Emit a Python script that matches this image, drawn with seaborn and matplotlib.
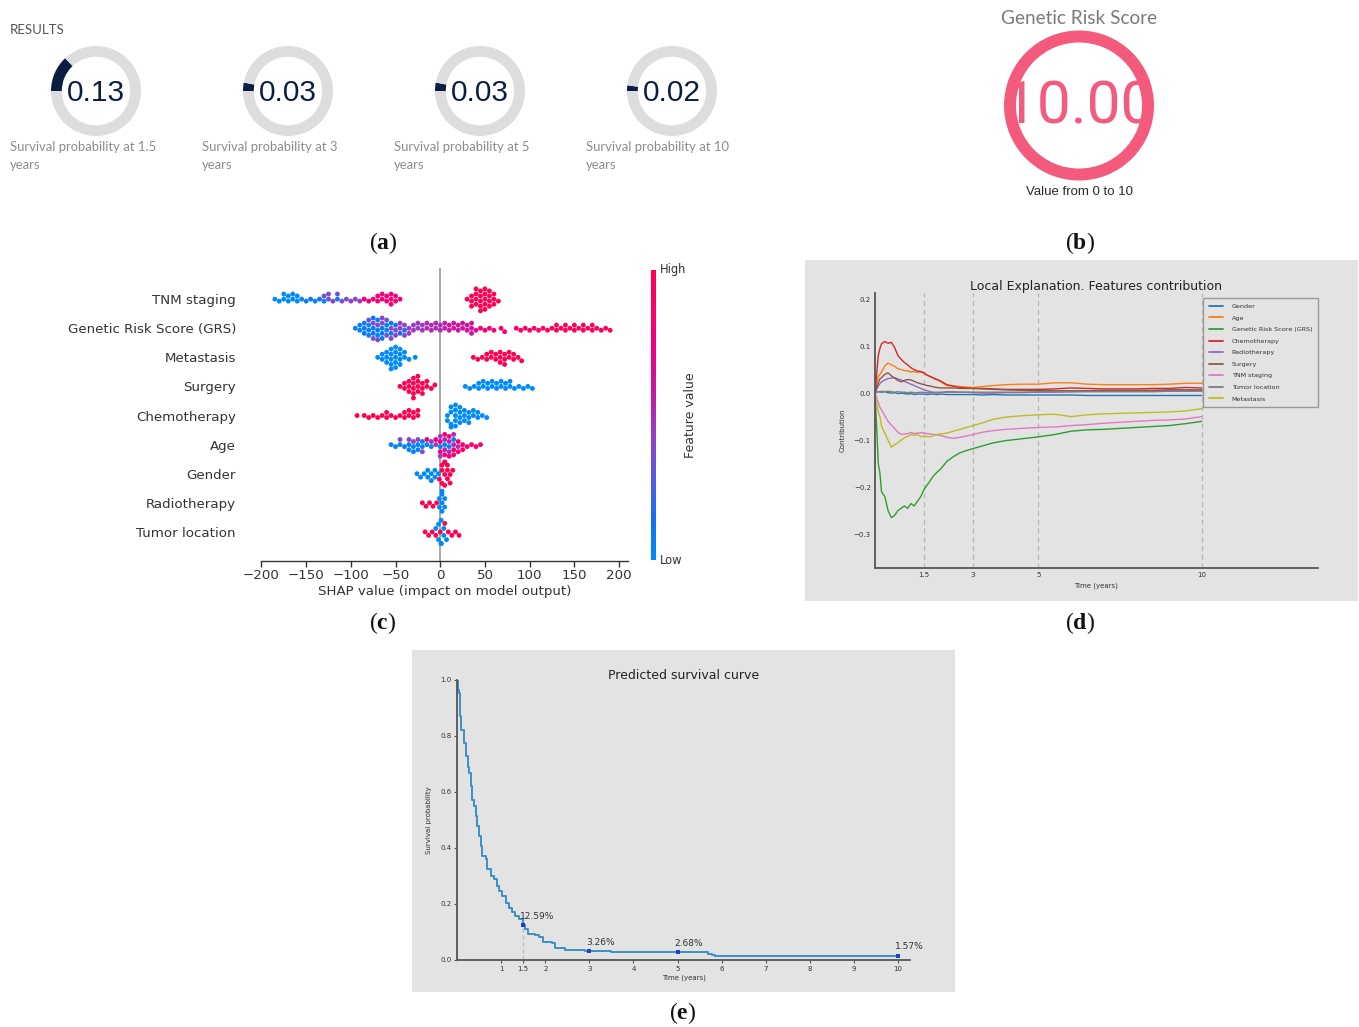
import numpy as np
import pandas as pd
import matplotlib
matplotlib.use("Agg")
import matplotlib as mpl
import matplotlib.pyplot as plt
from matplotlib.colors import LinearSegmentedColormap, Normalize
import seaborn as sns
import warnings
warnings.filterwarnings("ignore")

# ---------------- data ----------------
# (a) survival gauges
gauge_probs = [0.13, 0.03, 0.03, 0.02]
gauge_labels = ["Survival probability at 1.5\nyears", "Survival probability at 3\nyears",
                "Survival probability at 5\nyears", "Survival probability at 10\nyears"]
# (b) genetic risk score
grs_value = 10.0
grs_max = 10.0

# (c) SHAP summary: bin centre, number of dots, feature value (0 low .. 1 high)
shap_features = ["TNM staging", "Genetic Risk Score (GRS)", "Metastasis", "Surgery",
                 "Chemotherapy", "Age", "Gender", "Radiotherapy", "Tumor location"]
tnm_shap = [-185, -180, -175, -170, -165, -160, -155, -150, -145, -140, -135,
            -130, -130, -125, -120, -115, -115, -110, -105, -100, -95, -90,
            -85, -80, -75, -70, -65, -60, -55, -50, -45,
            30, 35, 40, 45, 50, 55, 60, 65]
tnm_count = [1, 1, 2, 2, 2, 2, 1, 1, 1, 1, 1,
             1, 1, 2, 1, 1, 1, 1, 1, 1, 1, 1,
             1, 1, 1, 2, 2, 2, 3, 2, 1,
             1, 3, 4, 5, 5, 4, 3, 1]
tnm_fval = [0, 0, 0, 0, 0, 0, 0, 0.05, 0.1, 0.05, 0.1,
            0.05, 0.35, 0.35, 0.4, 0.05, 0.35, 0.4, 0.35, 0.45, 0.4, 0.45,
            0.75, 0.75, 0.8, 0.8, 0.8, 0.8, 0.8, 0.8, 0.8,
            1, 1, 1, 1, 1, 1, 1, 1]

grs_shap = [-95, -90, -85, -80, -75, -70, -65, -60, -55, -50, -45, -40,
            -80, -75, -70, -65, -60, -55, -50, -45, -40, -35, -30, -25, -20, -15, -10, -5, 0, 5,
            10, 15, 20, 25, 30, 35, 40,
            45, 50, 55, 60, 68, 72, 85, 90, 95, 100, 105, 110, 115,
            120, 125, 130, 135, 140, 145, 150, 155, 160, 165, 170, 175, 180, 185, 190]
grs_count = [1, 2, 3, 3, 3, 3, 3, 2, 2, 1, 1, 1,
             1, 2, 2, 2, 2, 2, 2, 2, 2, 2, 2, 2, 2, 2, 2, 2, 2, 2,
             2, 2, 2, 2, 2, 3, 1,
             1, 1, 1, 1, 1, 1, 1, 1, 1, 1, 1, 1, 1,
             1, 1, 2, 1, 2, 1, 2, 1, 2, 1, 2, 1, 1, 1, 1]
grs_fval = [0.05, 0.05, 0.1, 0.05, 0.1, 0.05, 0.1, 0.05, 0.1, 0.1, 0.15, 0.15,
            0.35, 0.4, 0.35, 0.4, 0.35, 0.4, 0.4, 0.45, 0.4, 0.45, 0.45, 0.45, 0.45, 0.5, 0.5, 0.5, 0.5, 0.55,
            0.6, 0.6, 0.6, 0.6, 0.62, 0.62, 0.65,
            0.8, 0.8, 0.8, 0.8, 0.85, 0.85, 0.85, 0.85, 0.85, 0.85, 0.9, 0.9, 0.9,
            0.95, 0.95, 0.95, 0.95, 0.95, 0.95, 0.95, 0.95, 0.95, 0.95, 0.95, 0.95, 0.95, 0.95, 0.95]

met_shap = [-70, -65, -60, -55, -50, -45, -40, -35, -28,
            37, 42, 47, 52, 57, 62, 67, 72, 77, 82, 87, 91]
met_count = [1, 2, 3, 5, 5, 4, 2, 1, 1,
             1, 1, 1, 2, 2, 2, 3, 3, 2, 2, 1, 1]
met_fval = [0, 0, 0, 0, 0, 0, 0, 0, 0,
            1, 1, 1, 1, 1, 1, 1, 1, 1, 1, 1, 1]

sur_shap = [-45, -40, -35, -30, -25, -20, -15, -10, -6,
            28, 33, 38, 43, 48, 53, 58, 63, 68, 73, 78, 83, 88, 93, 98, 103]
sur_count = [1, 2, 3, 5, 4, 3, 2, 1, 1,
             1, 1, 1, 2, 2, 2, 2, 2, 2, 2, 2, 1, 1, 1, 1, 1]
sur_fval = [1, 1, 1, 1, 1, 1, 1, 1, 1,
            0, 0, 0, 0, 0, 0, 0, 0, 0, 0, 0, 0, 0, 0, 0, 0]

che_shap = [-93, -85, -80, -75, -70, -65, -60, -55, -50, -45, -40, -35, -30, -25,
            8, 12, 17, 22, 27, 32, 37, 42, 47, 52]
che_count = [1, 1, 1, 1, 1, 1, 2, 1, 1, 1, 2, 2, 2, 2,
             2, 4, 5, 4, 3, 3, 2, 2, 1, 1]
che_fval = [1, 1, 1, 1, 1, 1, 1, 1, 1, 1, 1, 1, 1, 1,
            0, 0, 0, 0, 0, 0, 0, 0, 0, 0]

age_shap = [-55, -50, -45, -40, -35, -30, -25, -20, -15, -10, 0, 5, 10, 15,
            -45, -35, -30, -25, -20, -10, -5, 0, 5, 10, 15, 20,
            -15, -5, 0, 5, 10, 15, 20, 25, 30, 35, 40, 45]
age_count = [1, 1, 1, 1, 2, 2, 2, 2, 1, 1, 1, 1, 1, 1,
             1, 1, 1, 1, 1, 1, 1, 2, 2, 2, 2, 1,
             1, 1, 2, 2, 2, 2, 2, 2, 1, 1, 1, 1]
age_fval = [0.05, 0.05, 0.05, 0.05, 0.05, 0.05, 0.05, 0.05, 0.05, 0.05, 0.05, 0.05, 0.05, 0.05,
            0.4, 0.4, 0.4, 0.4, 0.4, 0.45, 0.45, 0.45, 0.5, 0.5, 0.5, 0.5,
            0.75, 0.75, 0.75, 0.8, 0.8, 0.8, 0.8, 0.85, 0.85, 0.85, 0.85, 0.85]

gen_shap = [-26, -22, -18, -14, -10, -6, -2,
            -1, 2, 5, 8, 11, 14]
gen_count = [1, 1, 1, 2, 2, 2, 1,
             1, 3, 4, 3, 2, 1]
gen_fval = [0, 0, 0, 0, 0, 0, 0,
            1, 1, 1, 1, 1, 1]

rad_shap = [-20, -16, -12, -8, -4,
            -1, 2, 5]
rad_count = [1, 1, 1, 1, 1,
             2, 4, 2]
rad_fval = [1, 1, 1, 1, 1,
            0, 0, 0]

tum_shap = [-17, -13, -9, -5, 0, 5, 9, 13, 17, 21,
            -5, -2, 1, 4, 7]
tum_count = [1, 1, 1, 1, 1, 1, 1, 1, 1, 1,
             1, 2, 3, 2, 1]
tum_fval = [1, 1, 1, 1, 1, 1, 1, 1, 1, 1,
            0, 0, 0, 0, 0]

# (d) local explanation: contributions over time
contrib_time = [0, 0.05, 0.1, 0.15, 0.2, 0.3, 0.4, 0.5, 0.6, 0.7, 0.8, 0.9, 1.0, 1.1, 1.2, 1.3,
                1.4, 1.5, 1.6, 1.7, 1.8, 1.9, 2.0, 2.2, 2.4, 2.6, 2.8, 3.0, 3.3, 3.6, 4.0, 4.5,
                5.0, 5.5, 6.0, 6.5, 7.0, 7.5, 8.0, 8.5, 9.0, 9.5, 10.0]
contrib_names = ["Gender", "Age", "Genetic Risk Score (GRS)", "Chemotherapy", "Radiotherapy",
                 "Surgery", "TNM staging", "Tumor location", "Metastasis"]
c_gender = [0, 0.002, 0.003, 0.003, 0.002, 0.003, 0.001, 0.0, 0.001, -0.001, 0.0, -0.001, -0.002, -0.001,
            -0.003, -0.002, -0.002, -0.002, -0.003, -0.002, -0.002, -0.003, -0.002, -0.003, -0.003, -0.003,
            -0.003, -0.003, -0.004, -0.003, -0.004, -0.004, -0.004, -0.004, -0.004, -0.005, -0.005, -0.005,
            -0.005, -0.005, -0.005, -0.005, -0.005]
c_age = [0, 0.02, 0.035, 0.04, 0.045, 0.058, 0.064, 0.06, 0.057, 0.052, 0.05, 0.048, 0.047, 0.045, 0.046,
         0.044, 0.045, 0.042, 0.038, 0.035, 0.031, 0.028, 0.025, 0.016, 0.015, 0.014, 0.013, 0.012, 0.014,
         0.016, 0.018, 0.019, 0.019, 0.022, 0.022, 0.019, 0.018, 0.018, 0.018, 0.018, 0.019, 0.021, 0.021]
c_grs = [0, -0.07, -0.15, -0.17, -0.21, -0.22, -0.25, -0.265, -0.26, -0.25, -0.245, -0.24, -0.245, -0.235,
         -0.24, -0.23, -0.22, -0.205, -0.195, -0.185, -0.175, -0.168, -0.162, -0.145, -0.135, -0.127,
         -0.122, -0.118, -0.112, -0.106, -0.101, -0.097, -0.093, -0.088, -0.081, -0.078, -0.077, -0.075,
         -0.073, -0.071, -0.069, -0.065, -0.060]
c_chemo = [0, 0.04, 0.08, 0.095, 0.105, 0.11, 0.106, 0.108, 0.097, 0.08, 0.072, 0.065, 0.06, 0.054, 0.05,
           0.047, 0.046, 0.043, 0.038, 0.035, 0.032, 0.029, 0.026, 0.018, 0.015, 0.012, 0.011, 0.010, 0.010,
           0.009, 0.008, 0.008, 0.008, 0.009, 0.011, 0.010, 0.009, 0.009, 0.009, 0.010, 0.010, 0.012, 0.011]
c_radio = [0, 0.008, 0.015, 0.02, 0.024, 0.028, 0.031, 0.032, 0.033, 0.030, 0.028, 0.025, 0.022, 0.019,
           0.016, 0.013, 0.010, 0.007, 0.005, 0.003, 0.001, 0.0, 0.001, 0.003, 0.003, 0.002, 0.002, 0.001,
           0.0, 0.0, 0.001, 0.001, 0.002, 0.002, 0.003, 0.004, 0.004, 0.005, 0.005, 0.005, 0.006, 0.006, 0.006]
c_surgery = [0, 0.012, 0.022, 0.03, 0.033, 0.04, 0.043, 0.037, 0.032, 0.027, 0.024, 0.027, 0.029, 0.028,
             0.025, 0.022, 0.020, 0.018, 0.016, 0.015, 0.013, 0.012, 0.011, 0.011, 0.011, 0.010, 0.010,
             0.010, 0.009, 0.008, 0.007, 0.006, 0.006, 0.005, 0.005, 0.005, 0.006, 0.006, 0.006, 0.006,
             0.007, 0.007, 0.007]
c_tnm = [0, -0.01, -0.02, -0.03, -0.036, -0.048, -0.06, -0.068, -0.075, -0.083, -0.088, -0.087, -0.086,
         -0.084, -0.086, -0.085, -0.084, -0.085, -0.086, -0.087, -0.088, -0.089, -0.090, -0.094, -0.096,
         -0.094, -0.091, -0.088, -0.083, -0.080, -0.077, -0.075, -0.073, -0.072, -0.069, -0.067, -0.064,
         -0.062, -0.060, -0.058, -0.057, -0.055, -0.050]
c_tumor = [0, 0.002, 0.003, 0.003, 0.004, 0.003, 0.004, 0.003, 0.002, 0.003, 0.002, 0.002, 0.001, 0.002,
           0.001, 0.001, 0.002, 0.001, 0.001, 0.001, 0.002, 0.002, 0.002, 0.002, 0.002, 0.002, 0.002, 0.002,
           0.002, 0.002, 0.002, 0.002, 0.003, 0.003, 0.003, 0.003, 0.003, 0.003, 0.003, 0.003, 0.004, 0.004,
           0.004]
c_meta = [0, -0.02, -0.04, -0.05, -0.07, -0.085, -0.10, -0.115, -0.11, -0.105, -0.10, -0.095, -0.092,
          -0.088, -0.09, -0.088, -0.092, -0.093, -0.092, -0.093, -0.090, -0.088, -0.087, -0.085, -0.081,
          -0.077, -0.073, -0.069, -0.063, -0.056, -0.051, -0.048, -0.046, -0.045, -0.050, -0.046, -0.044,
          -0.043, -0.042, -0.041, -0.040, -0.038, -0.033]

# (e) predicted survival curve (step function)
surv_time = [0, 0.015, 0.05, 0.075, 0.09, 0.15, 0.165, 0.2, 0.24, 0.28, 0.31, 0.35, 0.39, 0.43, 0.46,
             0.5, 0.54, 0.57, 0.65, 0.69, 0.76, 0.83, 0.91, 0.95, 1.02, 1.1, 1.17, 1.25, 1.32, 1.4,
             1.5, 1.55, 1.62, 1.77, 1.85, 1.96, 2.15, 2.22, 2.45, 2.75, 2.9, 3.5, 3.55, 5.7, 5.78,
             5.85, 10.0]
surv_prob = [1.0, 0.964, 0.953, 0.87, 0.822, 0.81, 0.775, 0.727, 0.69, 0.668, 0.62, 0.573, 0.549, 0.514,
             0.478, 0.442, 0.407, 0.371, 0.359, 0.324, 0.30, 0.288, 0.265, 0.247, 0.229, 0.205, 0.187,
             0.17, 0.158, 0.146, 0.1259, 0.110, 0.093, 0.09, 0.081, 0.065, 0.06, 0.042, 0.037, 0.035,
             0.0326, 0.029, 0.0268, 0.022, 0.018, 0.0157, 0.0157]
mark_time = [1.5, 3, 5, 10]
mark_prob = [0.1259, 0.0326, 0.0268, 0.0157]
surv_xticks = [1, 1.5, 2, 3, 4, 5, 6, 7, 8, 9, 10]
surv_xticklabels = ["1", "1.5", "2", "3", "4", "5", "6", "7", "8", "9", "10"]

# ---------------- figure ----------------
sns.set_theme(style="white")
plt.rcParams["font.family"] = ["DejaVu Sans"]
plt.rcParams["mathtext.fontset"] = "custom"
plt.rcParams["mathtext.rm"] = "Liberation Serif"
plt.rcParams["mathtext.bf"] = "Liberation Serif:bold"

W, H = 1359, 1027
fig = plt.figure(figsize=(W / 100, H / 100), dpi=100)
fig.patch.set_facecolor("white")


def fx(px):
    return px / W


def fy(py):
    return 1 - py / H


def rect(l, t, r, b):
    return [l / W, 1 - b / H, (r - l) / W, (b - t) / H]


PANEL_GRAY = "#e3e3e3"
for (l, t, r, b) in [(805, 260, 1358, 601), (412, 650, 955, 992)]:
    fig.add_artist(mpl.patches.Rectangle((l / W, 1 - b / H), (r - l) / W, (b - t) / H,
                                         transform=fig.transFigure, facecolor=PANEL_GRAY,
                                         edgecolor="none", zorder=-1))

# ---- (a) gauges ----
NAVY = "#0b1d42"
fig.text(fx(10), fy(30), "RESULTS", fontsize=9.5, color="#555555", family="Lato",
         ha="left", va="center")
for i, (p, lab) in enumerate(zip(gauge_probs, gauge_labels)):
    cx = 96 + 192 * i
    ax = fig.add_axes(rect(cx - 45, 46, cx + 45, 136))
    ax.pie([p, 1 - p], startangle=180, counterclock=False, colors=[NAVY, "#dddddd"],
           radius=1, wedgeprops=dict(width=0.24, linewidth=0))
    ax.set_xlim(-1, 1)
    ax.set_ylim(-1, 1)
    ax.text(0, -0.04, f"{p:.2f}", ha="center", va="center", fontsize=21.5, color=NAVY,
            family="Liberation Sans")
    fig.text(fx(cx - 86), fy(156), lab, fontsize=9.4, color="#8c8c8c", family="Lato",
             ha="left", va="center", linespacing=1.65)

# ---- (b) GRS ring ----
PINK = "#f35a7b"
fig.text(fx(1079), fy(18), "Genetic Risk Score", fontsize=13.7, color="#7a7a7a", family="Lato",
         ha="center", va="center")
axb = fig.add_axes(rect(1079 - 75, 105.5 - 75, 1079 + 75, 105.5 + 75))
axb.pie([grs_value, grs_max - grs_value], startangle=90, counterclock=False,
        colors=[PINK, "#dddddd"], radius=1, wedgeprops=dict(width=0.16, linewidth=0))
axb.set_xlim(-1, 1)
axb.set_ylim(-1, 1)
axb.text(0, -0.02, f"{grs_value:.2f}", ha="center", va="center", fontsize=43.5, color=PINK,
         family="Roboto")
fig.text(fx(1079), fy(192), "Value from 0 to 10", fontsize=9.5, color="#2a2a2a",
         family="Liberation Sans", ha="center", va="center")

# ---- (c) SHAP beeswarm ----
shap_cmap = LinearSegmentedColormap.from_list(
    "shap_rb", ["#008bfb", "#1270f2", "#5a5ae0", "#9540c6", "#c51aa3", "#ea0088", "#ff006a", "#ff0052"])
shap_groups = [(tnm_shap, tnm_count, tnm_fval), (grs_shap, grs_count, grs_fval),
               (met_shap, met_count, met_fval), (sur_shap, sur_count, sur_fval),
               (che_shap, che_count, che_fval), (age_shap, age_count, age_fval),
               (gen_shap, gen_count, gen_fval), (rad_shap, rad_count, rad_fval),
               (tum_shap, tum_count, tum_fval)]
frames = []
for name, (s, c, f) in zip(shap_features, shap_groups):
    frames.append(pd.DataFrame({"shap": np.repeat(s, c), "fval": np.repeat(f, c), "feature": name}))
df_shap = pd.concat(frames, ignore_index=True)

axc = fig.add_axes(rect(261, 268, 628, 561))
axc.yaxis.grid(True, linestyle=(0, (1, 2)), color="#cccccc", linewidth=0.9)
axc.set_axisbelow(True)
axc.axvline(0, color="#999999", linewidth=1.2, zorder=0)
sns.swarmplot(data=df_shap, x="shap", y="feature", order=shap_features, hue="fval",
              palette=shap_cmap, hue_norm=(0, 1), size=3.5, orient="h", legend=False,
              linewidth=0, ax=axc, zorder=3)
axc.set_xlim(-200.5, 210)
axc.set_ylim(9.0, -1.07)
axc.set_xticks([-200, -150, -100, -50, 0, 50, 100, 150, 200])
axc.set_xticklabels(["\u2212200", "\u2212150", "\u2212100", "\u221250", "0", "50", "100", "150", "200"])
axc.set_xlabel("SHAP value (impact on model output)", fontsize=9.6, color="#333333", labelpad=2)
axc.set_ylabel("")
axc.tick_params(axis="y", length=0, pad=18, labelsize=9.6, labelcolor="#333333")
axc.tick_params(axis="x", length=4, width=1, direction="out", labelsize=9.6, labelcolor="#333333",
                color="#333333", bottom=True, pad=2)
for sp in ["top", "right", "left"]:
    axc.spines[sp].set_visible(False)
axc.spines["bottom"].set_color("#333333")
axc.spines["bottom"].set_linewidth(1)
axc.set_facecolor("none")

cax = fig.add_axes(rect(651, 270, 656, 560))
cb = mpl.colorbar.ColorbarBase(cax, cmap=shap_cmap, norm=Normalize(0, 1), orientation="vertical")
cb.outline.set_visible(False)
cb.set_ticks([])
fig.text(fx(660), fy(270), "High", fontsize=8.3, color="#333333", ha="left", va="center")
fig.text(fx(660), fy(561), "Low", fontsize=8.3, color="#333333", ha="left", va="center")
fig.text(fx(690), fy(415), "Feature value", fontsize=9, color="#333333", rotation=90,
         ha="center", va="center")

# ---- (d) local explanation ----
contrib_series = [c_gender, c_age, c_grs, c_chemo, c_radio, c_surgery, c_tnm, c_tumor, c_meta]
df_d = pd.DataFrame({
    "time": np.tile(contrib_time, len(contrib_names)),
    "value": np.concatenate(contrib_series),
    "feature": np.repeat(contrib_names, len(contrib_time)),
})
axd = fig.add_axes(rect(875, 293, 1318, 568))
axd.set_facecolor("none")
for tv in [1.5, 3, 5, 10]:
    axd.axvline(tv, color="#b5b5b5", linestyle=(0, (4, 3)), linewidth=0.9, zorder=0)
sns.lineplot(data=df_d, x="time", y="value", hue="feature", hue_order=contrib_names,
             palette=sns.color_palette("tab10", 9), linewidth=1.0, estimator=None, sort=False, ax=axd)
axd.set_xlim(0, 13.55)
axd.set_ylim(-0.372, 0.213)
axd.set_xticks([1.5, 3, 5, 10])
axd.set_xticklabels(["1.5", "3", "5", "10"])
axd.set_yticks([-0.3, -0.2, -0.1, 0.0, 0.1, 0.2])
axd.set_yticklabels(["\u22120.3", "\u22120.2", "\u22120.1", "0.0", "0.1", "0.2"])
axd.tick_params(labelsize=5, labelcolor="#333333", length=0, pad=3)
axd.set_xlabel("Time (years)", fontsize=5, color="#333333", labelpad=3)
axd.set_ylabel("Contribution", fontsize=5, color="#333333", labelpad=6)
axd.set_title("Local Explanation. Features contribution", fontsize=9, color="#222222", pad=2)
for sp in ["top", "right"]:
    axd.spines[sp].set_visible(False)
for sp in ["left", "bottom"]:
    axd.spines[sp].set_color("#555555")
    axd.spines[sp].set_linewidth(1.3)
leg = axd.legend(loc="upper left", bbox_to_anchor=(0.740, 0.982), fontsize=4.6, frameon=True,
                 fancybox=False, edgecolor="#999999", facecolor=PANEL_GRAY, framealpha=1,
                 handlelength=2.2, labelspacing=0.95, borderpad=0.9, handletextpad=1.4,
                 borderaxespad=0)
for line in leg.get_lines():
    line.set_linewidth(1.3)
for txt in leg.get_texts():
    txt.set_color("#333333")

# ---- (e) survival curve ----
axe = fig.add_axes(rect(457, 680, 910, 960))
axe.set_facecolor("none")
df_e = pd.DataFrame({"time": surv_time, "prob": surv_prob})
axe.vlines(1.5, 0, 0.1259, colors="#bbbbbb", linestyles=(0, (3, 2)), linewidth=1, zorder=1)
sns.lineplot(data=df_e, x="time", y="prob", drawstyle="steps-post", color="#3b8fc6",
             linewidth=1.4, estimator=None, sort=False, ax=axe, zorder=2)
df_m = pd.DataFrame({"time": mark_time, "prob": mark_prob})
sns.scatterplot(data=df_m, x="time", y="prob", marker="s", s=7, color="#1f3fd6",
                linewidth=0, ax=axe, zorder=3)
for t, p in zip(mark_time, mark_prob):
    axe.annotate(f"{p * 100:.2f}%", (t, p), xytext=(-2, 3), textcoords="offset points",
                 ha="left", va="bottom", fontsize=6.5, color="#333333")
axe.set_xlim(0, 10.27)
axe.set_ylim(0, 1.0)
axe.set_xticks(surv_xticks)
axe.set_xticklabels(surv_xticklabels)
axe.set_yticks([0.0, 0.2, 0.4, 0.6, 0.8, 1.0])
axe.set_yticklabels(["0.0", "0.2", "0.4", "0.6", "0.8", "1.0"])
axe.tick_params(labelsize=5, labelcolor="#333333", length=2, width=0.8, color="#555555",
                direction="out", pad=2, bottom=True, left=True)
axe.set_xlabel("Time (years)", fontsize=5, color="#333333", labelpad=2)
axe.set_ylabel("Survival probability", fontsize=5, color="#333333", labelpad=6)
axe.set_title("Predicted survival curve", fontsize=9, color="#222222", pad=1)
for sp in ["top", "right"]:
    axe.spines[sp].set_visible(False)
for sp in ["left", "bottom"]:
    axe.spines[sp].set_color("#555555")
    axe.spines[sp].set_linewidth(1.3)

# ---- panel letters ----
for lab, (px, py) in zip("abcde", [(383, 243), (1080, 243), (383, 623), (1080, 623), (683, 1013)]):
    fig.text(fx(px), fy(py), "($\\mathbf{" + lab + "}$)", fontsize=17, family="Liberation Serif",
             ha="center", va="center", color="#111111")

fig.savefig("out.png", dpi=100, facecolor="white")
